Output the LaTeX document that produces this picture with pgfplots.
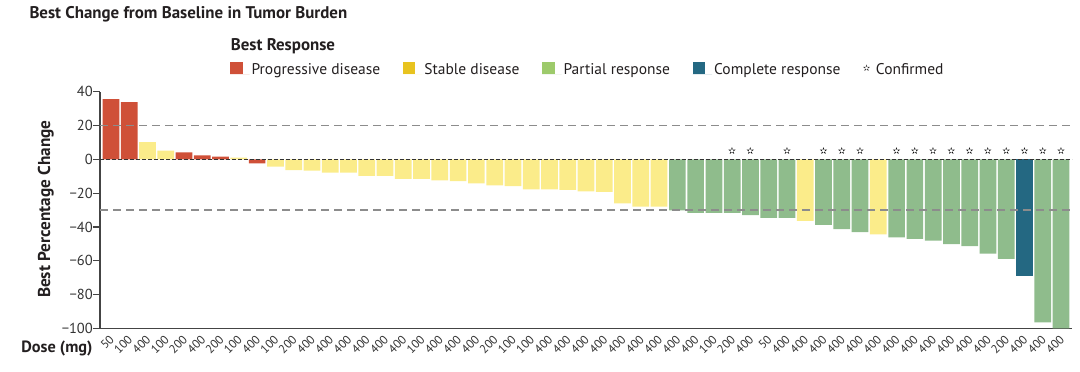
\documentclass[border=0pt]{standalone}
\usepackage{pgfplots}
\pgfplotsset{compat=1.18}
\usepackage{fontspec}
\setmainfont{PT Sans}
\newfontfamily\symfont{DejaVu Sans}
\usetikzlibrary{plotmarks}
\definecolor{redc}{HTML}{CF5038}
\definecolor{yelc}{HTML}{FBEC8A}
\definecolor{grnc}{HTML}{8FBC8C}
\definecolor{bluc}{HTML}{246882}
\definecolor{legyel}{HTML}{E8C31F}
\definecolor{leggrn}{HTML}{9DCA6B}
\definecolor{textc}{HTML}{231F20}
\definecolor{tickc}{HTML}{333333}
\definecolor{axc}{HTML}{444444}
\definecolor{refc}{HTML}{8C8C8C}
\begin{document}
\begin{tikzpicture}
\useasboundingbox (0,0) rectangle (1080pt,372pt);
\node[anchor=base west, inner sep=0pt, text=textc, font=\fontsize{16.9}{19}\selectfont\bfseries] at (29.3pt,353.1pt) {Best Change from Baseline in Tumor Burden};
\node[anchor=base west, inner sep=0pt, text=textc, font=\fontsize{16.9}{19}\selectfont\bfseries] at (230.7pt,321pt) {Best Response};
\begin{axis}[
  at={(100pt,43.5pt)}, anchor=south west,
  scale only axis, width=972pt, height=236.8pt,
  xmin=-0.6, xmax=52.6, ymin=-100, ymax=40,
  clip=false,
  axis lines*=left,
  axis line style={axc, line width=1.3pt},
  tick align=outside,
  major tick length=7pt,
  ytick={-100,-80,-60,-40,-20,0,20,40},
  yticklabels={−100,−80,−60,−40,−20,0,20,40},
  ytick style={axc, line width=1.3pt},
  yticklabel style={anchor=east, inner sep=0pt, text=tickc, font=\fontsize{14.5}{16}\selectfont},
  xtick={0,...,52},
  xticklabels={50,100,400,100,200,400,200,100,400,100,200,400,400,400,400,400,400,100,400,400,400,200,100,100,400,400,400,400,400,400,400,400,400,100,200,400,50,400,400,400,400,400,400,400,400,400,400,400,400,200,400,400,400},
  xtick style={draw=none},
  xticklabel style={xshift=4pt, yshift=-5pt, rotate=45, anchor=base east, inner sep=0pt, text=tickc, font=\fontsize{12}{14}\selectfont},
  ylabel={Best Percentage Change},
  ylabel style={at={(axis description cs:-0.05144,0.5038)}, rotate=0, anchor=base, inner sep=0pt, text=textc, font=\fontsize{17.2}{19}\selectfont\bfseries},
  xlabel={Dose (mg)},
  xlabel style={at={(axis description cs:-0.00751,-0.1022)}, anchor=base east, inner sep=0pt, text=textc, font=\fontsize{16.3}{19}\selectfont\bfseries},
  legend columns=-1,
  legend style={at={(0.13374,1.12964)}, anchor=north west, draw=none, fill=none, inner sep=0pt, outer sep=0pt,
    font=\fontsize{15.5}{18}\selectfont, text=textc,
    cells={anchor=base west, inner sep=0pt},
    /tikz/every even column/.append style={column sep=20.5pt}},
]
\addplot[ybar, bar width=0.915, bar shift=0pt, fill=redc, draw=none,
  legend image code/.code={\fill[redc] (0pt,0pt) rectangle (12.6pt,12.3pt); \path[draw=none] (0pt,0pt) -- (19.6pt,0pt);}]
  coordinates {(0,35.6) (1,33.9) (4,4.1) (5,2.4) (6,1.6) (8,-2.4)};
\addlegendentry{Progressive disease}
\addplot[ybar, bar width=0.915, bar shift=0pt, fill=yelc, draw=none,
  legend image code/.code={\fill[legyel] (0pt,0pt) rectangle (12.6pt,12.3pt); \path[draw=none] (0pt,0pt) -- (19.6pt,0pt);}]
  coordinates {(2,10.2) (3,5.1) (7,1.0) (9,-4.3) (10,-6.3) (11,-6.7) (12,-7.9) (13,-7.9) (14,-9.8) (15,-9.8)
   (16,-11.6) (17,-11.6) (18,-12.4) (19,-12.8) (20,-14.2) (21,-15.4) (22,-15.8) (23,-17.8) (24,-17.8)
   (25,-18.1) (26,-18.9) (27,-19.3) (28,-26.0) (29,-28.0) (30,-28.0) (38,-36.3) (42,-44.4)};
\addlegendentry{Stable disease}
\addplot[ybar, bar width=0.915, bar shift=0pt, fill=grnc, draw=none,
  legend image code/.code={\fill[leggrn] (0pt,0pt) rectangle (12.6pt,12.3pt); \path[draw=none] (0pt,0pt) -- (19.6pt,0pt);}]
  coordinates {(31,-30.2) (32,-31.6) (33,-31.6) (34,-31.6) (35,-33.0) (36,-34.6) (37,-34.6)
   (39,-38.7) (40,-41.2) (41,-43.0) (43,-46.2) (44,-47.0) (45,-48.1) (46,-50.1) (47,-51.3)
   (48,-55.8) (49,-58.8) (51,-96.4) (52,-100)};
\addlegendentry{Partial response}
\addplot[ybar, bar width=0.915, bar shift=0pt, fill=bluc, draw=none,
  legend image code/.code={\fill[bluc] (0pt,0pt) rectangle (12.6pt,12.3pt); \path[draw=none] (0pt,0pt) -- (19.6pt,0pt);}]
  coordinates {(50,-69.0)};
\addlegendentry{Complete response}
\addplot[only marks, color=textc, mark=text, text mark={\symfont\fontsize{9.5}{10}\selectfont ✫},
  legend image code/.code={\node[inner sep=0pt, anchor=west, text=textc] at (0pt,5.5pt) {\symfont\fontsize{9}{10}\selectfont ✫}; \path[draw=none] (0pt,0pt) -- (11pt,0pt);}]
  coordinates {(34,5.2) (35,5.2) (37,5.2) (39,5.2) (40,5.2) (41,5.2) (43,5.2) (44,5.2) (45,5.2)
   (46,5.2) (47,5.2) (48,5.2) (49,5.2) (50,5.2) (51,5.2) (52,5.2)};
\addlegendentry{Confirmed}
\draw[refc, line width=1.3pt, dash pattern=on 8pt off 5pt] (axis cs:-0.6,20) -- (axis cs:52.5,20);
\draw[refc, line width=1.3pt, dash pattern=on 8pt off 5pt] (axis cs:-0.6,-30) -- (axis cs:52.5,-30);
\draw[tickc, line width=1.3pt, dash pattern=on 4pt off 2pt] (axis cs:-0.6,0) -- (axis cs:52.6,0);
\end{axis}
\end{tikzpicture}
\end{document}
